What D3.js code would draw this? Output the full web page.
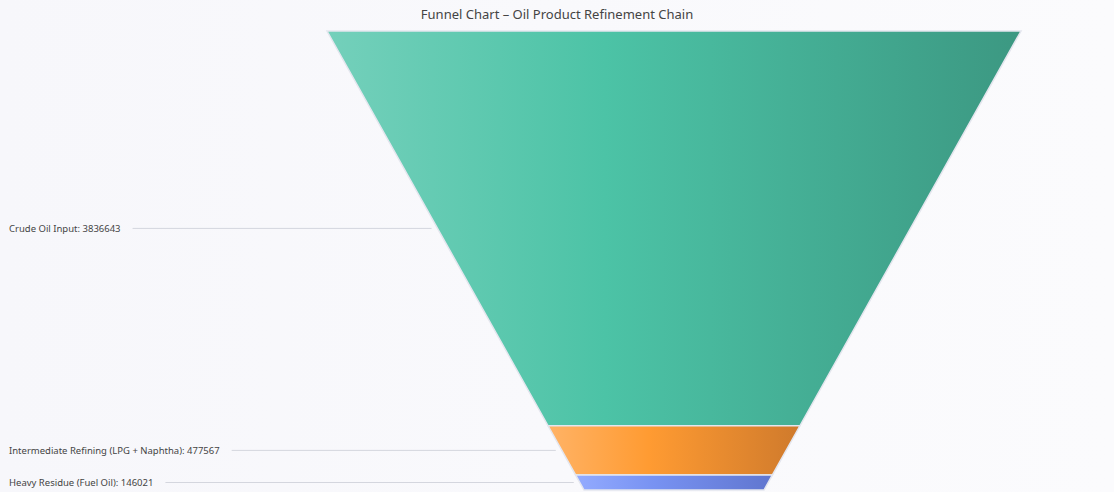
<!DOCTYPE html>
<html>
<head>
<meta charset="utf-8">
<script src="https://cdn.jsdelivr.net/npm/d3@7"></script>
<style>
  body { margin: 0; background: #f8f8fb; }
  svg { font-family: "Noto Sans", sans-serif; }
</style>
</head>
<body>
<svg id="chart"></svg>
<script>
var stages = ['Crude Oil Input', 'Intermediate Refining  (LPG + Naphtha)', 'Heavy Residue (Fuel Oil)'];
var values = [3836643, 477567, 146021];
var colors = [
  ['#74d0bb', '#4cc3a6', '#3c9882'],
  ['#ffb366', '#ff9b32', '#cf7a2c'],
  ['#93abff', '#7892f2', '#6076cf']
];

var w = 1114, h = 492;
var svg = d3.select('#chart').attr('width', w).attr('height', h);

var bg = svg.append('defs').append('linearGradient').attr('id', 'bg');
bg.append('stop').attr('offset', 0).attr('stop-color', '#f7f7fb');
bg.append('stop').attr('offset', 1).attr('stop-color', '#fbfbfd');
svg.append('rect').attr('width', w).attr('height', h).attr('fill', 'url(#bg)');

var total = d3.sum(values);
var cum = [0];
values.forEach(function(v, i) { cum.push(cum[i] + v); });

var y = d3.scaleLinear().domain([0, total]).range([31, 490]);
var halfW = d3.scaleLinear().domain([0, total]).range([347, 90]);
var cx = 674;

var defs = svg.select('defs');
colors.forEach(function(c, i) {
  var g = defs.append('linearGradient').attr('id', 'g' + i);
  g.append('stop').attr('offset', 0).attr('stop-color', c[0]);
  g.append('stop').attr('offset', 0.4).attr('stop-color', c[1]);
  g.append('stop').attr('offset', 1).attr('stop-color', c[2]);
});

var seg = svg.selectAll('g.seg').data(values).enter().append('g').attr('class', 'seg');

seg.append('path')
  .attr('d', function(d, i) {
    var a = cum[i], b = cum[i + 1];
    return 'M' + (cx - halfW(a)) + ',' + y(a) +
      'L' + (cx + halfW(a)) + ',' + y(a) +
      'L' + (cx + halfW(b)) + ',' + y(b) +
      'L' + (cx - halfW(b)) + ',' + y(b) + 'Z';
  })
  .attr('fill', function(d, i) { return 'url(#g' + i + ')'; })
  .attr('stroke', '#e4e6ee')
  .attr('stroke-width', 1.5);

seg.append('line')
  .attr('x1', function(d, i) {
    var t = stages[i] + ': ' + d;
    return 9 + t.length * 5.3 + 12;
  })
  .attr('x2', function(d, i) { return cx - halfW((cum[i] + cum[i + 1]) / 2) - 6; })
  .attr('y1', function(d, i) { return y((cum[i] + cum[i + 1]) / 2); })
  .attr('y2', function(d, i) { return y((cum[i] + cum[i + 1]) / 2); })
  .attr('stroke', '#d4d6de')
  .attr('stroke-width', 1);

seg.append('text')
  .attr('x', 9)
  .attr('y', function(d, i) { return y((cum[i] + cum[i + 1]) / 2); })
  .attr('dy', '0.35em')
  .attr('font-size', 9.5)
  .attr('fill', '#444')
  .attr('textLength', null)
  .text(function(d, i) { return stages[i] + ': ' + d; })
  .each(function(d, i) {
    var len = this.getComputedTextLength();
    d3.select(this.parentNode).select('line').attr('x1', 9 + len + 12);
  });

svg.append('text')
  .attr('x', 557).attr('y', 19)
  .attr('text-anchor', 'middle')
  .attr('font-size', 13)
  .attr('fill', '#444')
  .text('Funnel Chart \u2013 Oil Product Refinement Chain');
</script>
</body>
</html>
